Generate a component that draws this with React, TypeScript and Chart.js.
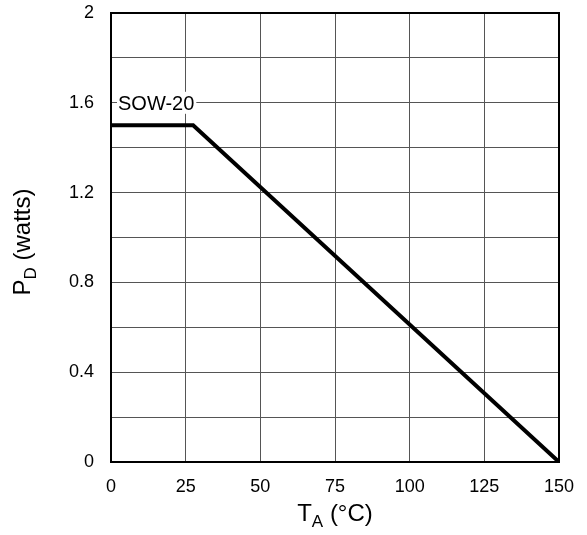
import React, { useEffect, useRef } from "react";
import { Chart, registerables } from "chart.js";

Chart.register(...registerables);

const tempC = [0, 27.5, 150];
const powerW = [1.5, 1.5, 0];
const xTicks = [0, 25, 50, 75, 100, 125, 150];
const yLabelled = [0, 0.4, 0.8, 1.2, 1.6, 2];
const curveLabel = "SOW-20";
const curveLabelAt = [0, 1.6];

const FONT = "'Liberation Sans', Arial, Helvetica, sans-serif";

const overlay = {
  id: "overlay",
  afterDatasetsDraw(chart: any) {
    const { ctx, scales } = chart;
    const x = scales.x, y = scales.y;
    ctx.save();
    // curve label with white box
    ctx.font = `20px ${FONT}`;
    const lx = x.getPixelForValue(curveLabelAt[0]) + 7;
    const ly = y.getPixelForValue(curveLabelAt[1]);
    const w = ctx.measureText(curveLabel).width;
    ctx.fillStyle = "#fff";
    ctx.fillRect(lx - 1, ly - 11, w + 3, 22);
    ctx.fillStyle = "#000";
    ctx.textBaseline = "middle";
    ctx.textAlign = "left";
    ctx.fillText(curveLabel, lx, ly + 2);

    // axis titles with subscripts
    const drawSub = (main: string, sub: string, rest: string) => {
      ctx.font = `24px ${FONT}`;
      const w1 = ctx.measureText(main).width;
      const w3 = ctx.measureText(rest).width;
      ctx.font = `17px ${FONT}`;
      const w2 = ctx.measureText(sub).width;
      const total = w1 + w2 + w3;
      let cx = -total / 2;
      ctx.textAlign = "left";
      ctx.textBaseline = "alphabetic";
      ctx.font = `24px ${FONT}`;
      ctx.fillText(main, cx, 8);
      cx += w1;
      ctx.font = `17px ${FONT}`;
      ctx.fillText(sub, cx, 14);
      cx += w2;
      ctx.font = `24px ${FONT}`;
      ctx.fillText(rest, cx, 8);
    };
    const ca = chart.chartArea;
    ctx.fillStyle = "#000";
    ctx.save();
    ctx.translate((ca.left + ca.right) / 2, 513);
    drawSub("T", "A", " (°C)");
    ctx.restore();
    ctx.save();
    ctx.translate(22, 242);
    ctx.rotate(-Math.PI / 2);
    drawSub("P", "D", " (watts)");
    ctx.restore();
    ctx.restore();
  },
};

export default function App() {
  const ref = useRef<HTMLCanvasElement>(null);
  useEffect(() => {
    document.body.style.margin = "0";
    const chart = new Chart(ref.current!, {
      type: "line",
      data: {
        datasets: [
          {
            data: tempC.map((t, i) => ({ x: t, y: powerW[i] })),
            borderColor: "#000",
            borderWidth: 4,
            pointRadius: 0,
            fill: false,
            tension: 0,
            borderJoinStyle: "miter",
          },
        ],
      },
      options: {
        animation: false,
        responsive: false,
        devicePixelRatio: 1,
        layout: { padding: { top: 13, right: 28, left: 0, bottom: 0 } },
        plugins: { legend: { display: false }, tooltip: { enabled: false } },
        scales: {
          x: {
            type: "linear",
            min: 0,
            max: 150,
            afterBuildTicks: (s: any) => {
              s.ticks = xTicks.map((v) => ({ value: v }));
            },
            afterFit: (s: any) => {
              s.height = 73;
              s.paddingLeft = 0;
              s.paddingRight = 0;
            },
            ticks: {
              padding: 14,
              color: "#000",
              font: { family: FONT, size: 18 },
              maxRotation: 0,
            },
            grid: { color: "#555", lineWidth: 1, drawTicks: false },
            border: { color: "#000", width: 2 },
          },
          y: {
            type: "linear",
            min: 0,
            max: 2,
            ticks: {
              stepSize: 0.2,
              padding: 17,
              color: "#000",
              font: { family: FONT, size: 18 },
              callback: (v: any) => {
                const n = Math.round(Number(v) * 10) / 10;
                return yLabelled.some((l) => Math.abs(l - n) < 1e-6) ? String(n) : "";
              },
            },
            afterFit: (s: any) => {
              s.width = 111;
              s.paddingTop = 0;
              s.paddingBottom = 0;
            },
            grid: { color: "#555", lineWidth: 1, drawTicks: false },
            border: { color: "#000", width: 2 },
          },
        },
      },
      plugins: [
        overlay,
        {
          id: "frame",
          afterDraw(chart: any) {
            const { ctx, chartArea: a } = chart;
            ctx.save();
            ctx.strokeStyle = "#000";
            ctx.lineWidth = 2;
            ctx.strokeRect(a.left, a.top, a.right - a.left, a.bottom - a.top);
            ctx.restore();
          },
        },
      ],
    });
    return () => chart.destroy();
  }, []);
  return <canvas ref={ref} width={587} height={535} style={{ display: "block" }} />;
}
